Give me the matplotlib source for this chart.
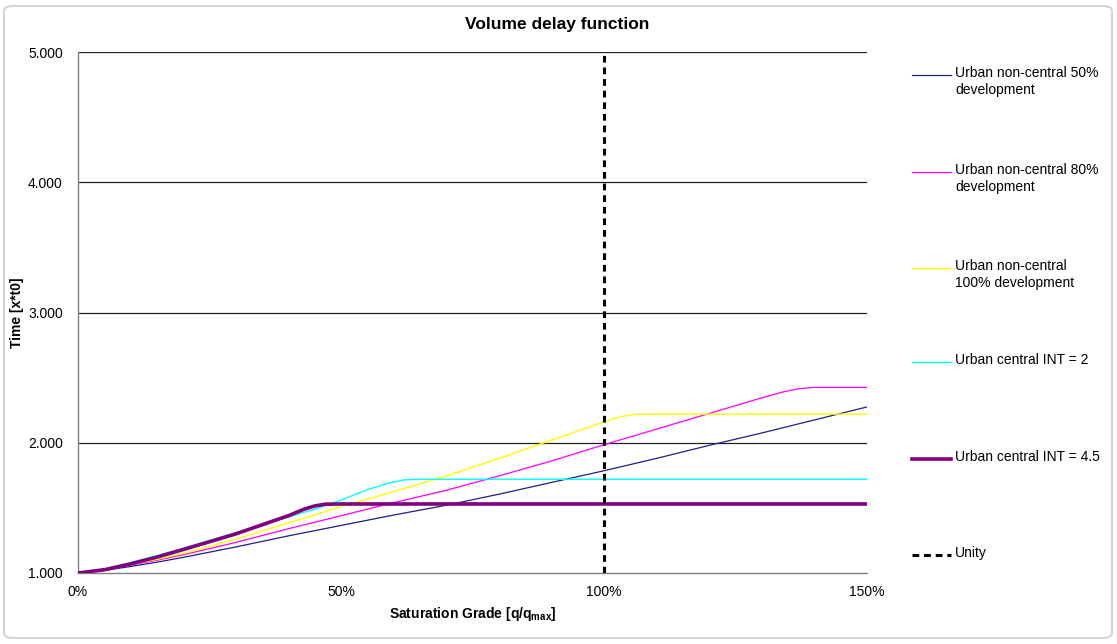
import matplotlib
matplotlib.use("Agg")
import matplotlib.pyplot as plt
from matplotlib.lines import Line2D
from matplotlib.patches import FancyBboxPatch
from matplotlib.ticker import FuncFormatter

plt.rcParams['font.family'] = ['Liberation Sans', 'DejaVu Sans']

# Saturation grade (q/qmax) sample points and travel-time factors per road type
x_nc50 = [0.0, 0.05, 0.1, 0.15, 0.2, 0.3, 0.4, 0.5, 0.6, 0.7, 0.8, 0.9, 1.0, 1.1, 1.2, 1.3, 1.4, 1.5]
y_nc50 = [1.0, 1.02, 1.05, 1.083, 1.12, 1.20, 1.285, 1.365, 1.445, 1.52, 1.605, 1.695, 1.785, 1.88, 1.98, 2.075, 2.175, 2.275]

x_nc80 = [0.0, 0.05, 0.1, 0.15, 0.2, 0.3, 0.4, 0.5, 0.6, 0.7, 0.8, 0.9, 1.0, 1.1, 1.2, 1.3, 1.34, 1.37, 1.4, 1.5]
y_nc80 = [1.0, 1.022, 1.06, 1.098, 1.14, 1.235, 1.34, 1.44, 1.54, 1.635, 1.745, 1.86, 1.985, 2.105, 2.225, 2.345, 2.39, 2.415, 2.425, 2.425]

x_nc100 = [0.0, 0.05, 0.1, 0.15, 0.2, 0.3, 0.4, 0.5, 0.6, 0.7, 0.8, 0.9, 1.0, 1.03, 1.06, 1.1, 1.5]
y_nc100 = [1.0, 1.024, 1.065, 1.105, 1.15, 1.26, 1.385, 1.51, 1.625, 1.745, 1.88, 2.02, 2.16, 2.2, 2.218, 2.22, 2.22]

x_c2 = [0.0, 0.05, 0.1, 0.15, 0.2, 0.3, 0.4, 0.45, 0.5, 0.55, 0.59, 0.62, 0.65, 1.5]
y_c2 = [1.0, 1.028, 1.08, 1.133, 1.19, 1.31, 1.43, 1.49, 1.56, 1.64, 1.69, 1.715, 1.72, 1.72]

x_c45 = [0.0, 0.05, 0.1, 0.15, 0.2, 0.3, 0.4, 0.43, 0.45, 0.47, 0.5, 1.5]
y_c45 = [1.0, 1.025, 1.07, 1.122, 1.18, 1.30, 1.44, 1.49, 1.515, 1.528, 1.53, 1.53]

unity_x = 1.0

series_labels = [
    "Urban non-central 50%\ndevelopment",
    "Urban non-central 80%\ndevelopment",
    "Urban non-central\n100% development",
    "Urban central INT = 2",
    "Urban central INT = 4.5",
    "Unity",
]
y_ticks = [1.0, 2.0, 3.0, 4.0, 5.0]
x_ticks = [0.0, 0.5, 1.0, 1.5]

W, H = 1117, 644
fig = plt.figure(figsize=(W / 100, H / 100), dpi=100)
ax = fig.add_axes([78 / W, 1 - 573 / H, (867 - 78) / W, (573 - 52) / H])

styles = [
    dict(color="#1f1f8a", lw=0.9),
    dict(color="#ff00ff", lw=0.9),
    dict(color="#ffff00", lw=1.0),
    dict(color="#00ffff", lw=1.0),
    dict(color="#800080", lw=2.6),
]
data = [(x_nc50, y_nc50), (x_nc80, y_nc80), (x_nc100, y_nc100), (x_c2, y_c2), (x_c45, y_c45)]

for yv in y_ticks[1:]:
    ax.axhline(yv, color="#202020", lw=0.9, zorder=1)

for (xs, ys), st in zip(data, styles):
    ax.plot(xs, ys, solid_joinstyle="round", solid_capstyle="round", zorder=3, **st)

unity_style = dict(color="black", lw=2.2, linestyle=(0, (2.2, 1.6)))
ax.axvline(unity_x, zorder=4, **unity_style)

ax.set_xlim(0, 1.5)
ax.set_ylim(1.0, 5.0)
ax.set_xticks(x_ticks)
ax.set_yticks(y_ticks)
ax.xaxis.set_major_formatter(FuncFormatter(lambda v, p: f"{v * 100:.0f}%"))
ax.yaxis.set_major_formatter(FuncFormatter(lambda v, p: f"{v:.3f}"))
ax.tick_params(length=0, labelsize=10, colors="black")
ax.tick_params(axis="x", pad=9)
ax.tick_params(axis="y", pad=11)
for s in ["top", "right"]:
    ax.spines[s].set_visible(False)
for s in ["left", "bottom"]:
    ax.spines[s].set_color("#808080")
    ax.spines[s].set_linewidth(1.0)

fig.text(557 / W, 1 - 25 / H, "Volume delay function", ha="center", va="center",
         fontsize=12.5, fontweight="bold")
ax.set_xlabel(r"Saturation Grade [q/q$_{\mathregular{max}}$]", fontsize=10,
              fontweight="bold", labelpad=4)
fig.text(17 / W, 1 - 313 / H, "Time [x*t0]", rotation=90, ha="center", va="center",
         fontsize=10, fontweight="bold")

# Legend drawn to the right of the plot area
entry_y = [75, 172, 268, 362, 459, 555]
all_styles = styles + [unity_style]
for lab, yy, st in zip(series_labels, entry_y, all_styles):
    yf = 1 - yy / H
    fig.add_artist(Line2D([912 / W, 951 / W], [yf, yf], transform=fig.transFigure,
                          color=st["color"], lw=st["lw"],
                          linestyle=st.get("linestyle", "-")))
    fig.text(955 / W, 1 - (yy - 9) / H, lab, ha="left", va="top", fontsize=10,
             linespacing=1.25)

# Rounded chart frame
fig.add_artist(FancyBboxPatch((4 / W, 6 / H), (W - 9) / W, (H - 12) / H,
                              boxstyle="round,pad=0,rounding_size=0.008",
                              transform=fig.transFigure, fill=False,
                              edgecolor="#d4d4d4", lw=1.5))

fig.savefig("out.png", dpi=100)
